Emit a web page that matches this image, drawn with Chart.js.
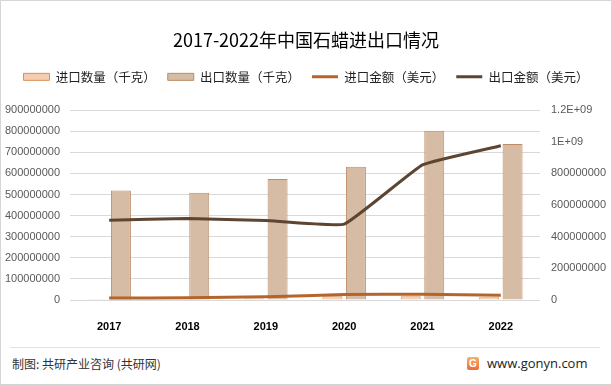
<!DOCTYPE html>
<html>
<head>
<meta charset="utf-8">
<script src="https://cdn.jsdelivr.net/npm/chart.js@4.4.0/dist/chart.umd.min.js"></script>
<style>
    html, body { margin: 0; padding: 0; background: #fff; }
    body { width: 612px; height: 385px; overflow: hidden; font-family: "Noto Sans CJK SC", "Liberation Sans", sans-serif; }
    #frame { position: absolute; left: 0; top: 0; width: 610px; height: 383px; border: 1px solid #d6d6d6; }
    #wrap { position: absolute; left: 0; top: 0; width: 612px; height: 340px; }
    #rule { position: absolute; left: 10px; top: 347px; width: 590px; height: 1px; background: #e2e2e2; }
    #credit { position: absolute; left: 12px; top: 355px; font-size: 12px; color: #333; }
    #site { position: absolute; left: 487px; top: 354px; font-size: 13px; color: #222; font-family: "Open Sans", "Liberation Sans", sans-serif; }
    #logo { position: absolute; left: 467px; top: 357px; width: 12px; height: 13px; border-radius: 2px;
            background: linear-gradient(#f7b267, #ee6a3c); color: #fff; font: bold 10px "Liberation Sans"; text-align: center; line-height: 13px; }
</style>
</head>
<body>
<div id="frame"></div>
<div id="wrap"><canvas id="chart"></canvas></div>
<div id="rule"></div>
<div id="credit">制图: 共研产业咨询 (共研网)</div>
<div id="logo">G</div>
<div id="site">www.gonyn.com</div>
<script>
// values
const years = ["2017", "2018", "2019", "2020", "2021", "2022"];
const importQty = [3000000, 4000000, 7000000, 18000000, 18000000, 13000000];      // 千克
const exportQty = [519000000, 508000000, 574000000, 632000000, 802000000, 739000000]; // 千克
const importValue = [12000000, 14000000, 20000000, 35000000, 36000000, 30000000];  // 美元
const exportValue = [504000000, 515000000, 502000000, 479000000, 854000000, 975000000]; // 美元

const leftTicks = { max: 900000000, step: 100000000 };
const rightTicks = { max: 1200000000, step: 200000000 };

function sciLabel(v) {
    if (v >= 1e9) {
        return (v / 1e9) + "E+09";
    }
    return String(v);
}

// leave a gap under the legend like the original
const legendGap = {
    id: "legendGap",
    beforeInit(chart) {
        const fit = chart.legend.fit;
        chart.legend.fit = function () {
            fit.bind(chart.legend)();
            this.height += 17;
        };
    }
};

new Chart(document.getElementById("chart"), {
    data: {
        labels: years,
        datasets: [
            {
                type: "bar",
                label: "进口数量（千克）",
                data: importQty,
                backgroundColor: "#F6CDB0",
                borderColor: "#D9925A",
                borderWidth: 1,
                yAxisID: "y",
                order: 1,
                pointStyle: "rect"
            },
            {
                type: "bar",
                label: "出口数量（千克）",
                data: exportQty,
                backgroundColor: "#D6BBA5",
                borderColor: "#BF8B64",
                borderWidth: 1,
                yAxisID: "y",
                order: 1,
                pointStyle: "rect"
            },
            {
                type: "line",
                label: "进口金额（美元）",
                data: importValue,
                borderColor: "#B5652B",
                backgroundColor: "#B5652B",
                borderWidth: 3,
                pointRadius: 0,
                tension: 0.1,
                yAxisID: "y1",
                order: 0,
                pointStyle: "line"
            },
            {
                type: "line",
                label: "出口金额（美元）",
                data: exportValue,
                borderColor: "#5D4532",
                backgroundColor: "#5D4532",
                borderWidth: 3,
                pointRadius: 0,
                tension: 0.1,
                yAxisID: "y1",
                order: 0,
                pointStyle: "line"
            }
        ]
    },
    options: {
        responsive: true,
        maintainAspectRatio: false,
        animation: false,
        layout: { padding: 0 },
        datasets: {
            bar: { categoryPercentage: 0.6, barPercentage: 0.85 }
        },
        plugins: {
            title: {
                display: true,
                text: "2017-2022年中国石蜡进出口情况",
                color: "#000",
                font: { size: 18, family: "'Noto Sans CJK SC', sans-serif", weight: "normal" },
                padding: { top: 29, bottom: 8 }
            },
            legend: {
                display: true,
                position: "top",
                labels: {
                    usePointStyle: true,
                    pointStyleWidth: 26,
                    boxHeight: 7,
                    color: "#222",
                    padding: 12,
                    font: { size: 12.5, family: "'Noto Sans CJK SC', sans-serif" },
                    sort: (a, b) => a.datasetIndex - b.datasetIndex
                }
            },
            tooltip: { enabled: false }
        },
        scales: {
            x: {
                grid: { display: false },
                border: { display: false },
                ticks: {
                    color: "#000",
                    padding: 12,
                    font: { size: 11, weight: "bold", family: "'Liberation Sans', sans-serif" }
                },
                afterFit: (scale) => { scale.height = 40; }
            },
            y: {
                position: "left",
                min: 0,
                max: leftTicks.max,
                grid: { color: "#d9d9d9", drawTicks: false },
                border: { display: false },
                ticks: {
                    stepSize: leftTicks.step,
                    color: "#595959",
                    padding: 10,
                    font: { size: 11, family: "'Liberation Sans', sans-serif" },
                    callback: (v) => String(v)
                },
                afterFit: (scale) => { scale.width = 70; }
            },
            y1: {
                position: "right",
                min: 0,
                max: rightTicks.max,
                grid: { display: false, drawTicks: false },
                border: { display: false },
                ticks: {
                    stepSize: rightTicks.step,
                    color: "#595959",
                    padding: 11,
                    font: { size: 11, family: "'Liberation Sans', sans-serif" },
                    callback: (v) => sciLabel(v)
                },
                afterFit: (scale) => { scale.width = 72; }
            }
        }
    },
    plugins: [legendGap]
});
</script>
</body>
</html>
